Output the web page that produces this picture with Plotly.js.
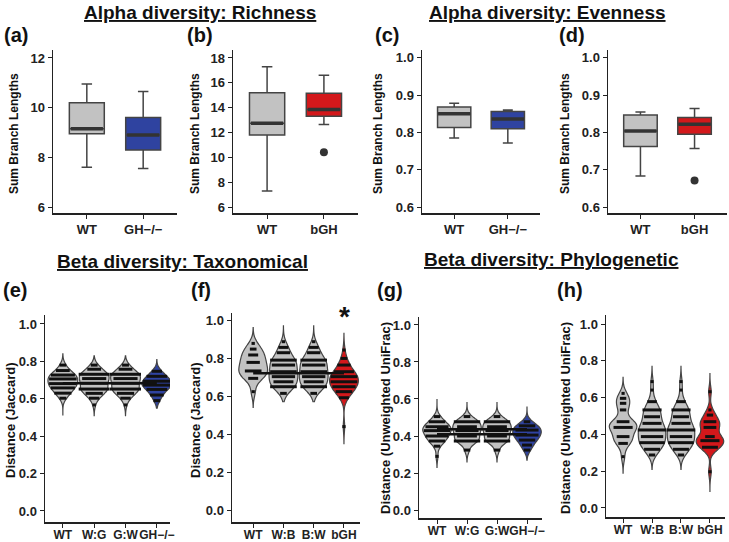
<!DOCTYPE html>
<html>
<head>
<meta charset="utf-8">
<script src="https://cdn.plot.ly/plotly-3.0.1.min.js"></script>
<style>body{margin:0;background:#fff}</style>
</head>
<body>
<div id="fig" style="width:729px;height:542px"></div>
<script>
// ---- alpha diversity box plots (whisker low, q1, median, q3, whisker high) ----
var aCats = ['WT', 'GH\u2212/\u2212'];
var aLow = [7.6, 7.55], aQ1 = [8.95, 8.3], aMed = [9.15, 8.9], aQ3 = [10.2, 9.6], aHigh = [10.95, 10.65];

var bCats = ['WT', 'bGH'];
var bLow = [7.3, 12.65], bQ1 = [11.8, 13.3], bMed = [12.75, 13.85], bQ3 = [15.2, 15.15], bHigh = [17.3, 16.6];
var bOutCat = ['bGH'], bOutVal = [10.4];

var cCats = ['WT', 'GH\u2212/\u2212'];
var cLow = [0.785, 0.772], cQ1 = [0.813, 0.81], cMed = [0.85, 0.836], cQ3 = [0.868, 0.856], cHigh = [0.878, 0.86];

var dCats = ['WT', 'bGH'];
var dLow = [0.683, 0.757], dQ1 = [0.762, 0.795], dMed = [0.804, 0.822], dQ3 = [0.847, 0.84], dHigh = [0.855, 0.864];
var dOutCat = ['bGH'], dOutVal = [0.671];

// ---- beta diversity: binned distances (bin value, count) and ranges ----
var eCats = ['WT', 'W:G', 'G:W', 'GH\u2212/\u2212'];
var eWTy = [0.78, 0.751, 0.727, 0.706, 0.681, 0.658, 0.63, 0.603], eWTn = [2, 4, 7, 8, 8, 7, 5, 2];
var eWGy = [0.78, 0.758, 0.731, 0.708, 0.683, 0.652, 0.629, 0.603, 0.567], eWGn = [2, 4, 9, 7, 8, 9, 5, 3, 1];
var eGHy = [0.747, 0.72, 0.694, 0.673, 0.65, 0.62, 0.59], eGHn = [3, 6, 8, 8, 6, 4, 2];
var eLo = [0.51, 0.51, 0.51, 0.55], eHi = [0.84, 0.83, 0.83, 0.81];
var eRef = [0.683];

var fCats = ['WT', 'W:B', 'B:W', 'bGH'];
var fWTy = [0.877, 0.847, 0.816, 0.777, 0.732, 0.693, 0.623], fWTn = [1, 2, 3, 4, 5, 3, 1];
var fWBy = [0.886, 0.856, 0.828, 0.789, 0.763, 0.728, 0.702, 0.675, 0.649, 0.614], fWBn = [1, 3, 4, 8, 7, 8, 7, 6, 8, 2];
var fBGy = [0.842, 0.798, 0.763, 0.728, 0.702, 0.675, 0.649, 0.623, 0.591, 0.439], fBGn = [1, 2, 4, 6, 8, 8, 7, 5, 3, 1];
var fLo = [0.54, 0.57, 0.57, 0.35], fHi = [0.96, 0.97, 0.97, 0.93];
var fRef = [0.72];

var gCats = ['WT', 'W:G', 'G:W', 'GH\u2212/\u2212'];
var gWTy = [0.505, 0.477, 0.45, 0.429, 0.4, 0.373, 0.345, 0.29], gWTn = [2, 5, 7, 8, 7, 5, 2, 1];
var gWGy = [0.505, 0.477, 0.45, 0.429, 0.4, 0.373, 0.324], gWGn = [2, 8, 6, 7, 6, 8, 2];
var gGHy = [0.477, 0.455, 0.432, 0.405, 0.378, 0.351, 0.324], gGHn = [2, 5, 7, 7, 5, 3, 2];
var gLo = [0.23, 0.26, 0.26, 0.27], gHi = [0.6, 0.58, 0.58, 0.56];
var gRef = [0.437, 0.41];

var hCats = ['WT', 'W:B', 'B:W', 'bGH'];
var hWTy = [0.623, 0.596, 0.569, 0.533, 0.469, 0.438, 0.388, 0.351, 0.279], hWTn = [1, 2, 2, 2, 4, 6, 4, 3, 1];
var hWBy = [0.687, 0.641, 0.578, 0.533, 0.496, 0.46, 0.424, 0.388, 0.355, 0.319, 0.288], hWBn = [1, 1, 3, 6, 5, 6, 9, 7, 8, 5, 2];
var hBGy = [0.632, 0.533, 0.505, 0.469, 0.438, 0.388, 0.366, 0.33, 0.197], hBGn = [1, 1, 2, 4, 4, 3, 6, 5, 1];
var hLo = [0.19, 0.21, 0.21, 0.09], hHi = [0.71, 0.77, 0.77, 0.73];

var GRAY = '#c2c2c2', BLUE = '#2f43a0', RED = '#d3181b';
var W = 729, H = 542;
var FONT = 'Liberation Sans, Arial, sans-serif';
var traces = [];
var shapes = [];

function px(p) { return p / W; }
function py(p) { return 1 - p / H; }

function boxPanel(cats, low, q1, med, q3, high, colors, xa, ya) {
	cats.forEach(function(c, i) {
		traces.push({
			type: 'box', x: [c], lowerfence: [low[i]], q1: [q1[i]], median: [med[i]],
			q3: [q3[i]], upperfence: [high[i]], fillcolor: colors[i],
			line: {color: '#444', width: 1.5}, width: 0.62, whiskerwidth: 0.3,
			boxpoints: false, hoverinfo: 'skip', xaxis: xa, yaxis: ya
		});
	});
	// thick median bars
	traces.push({
		type: 'scatter', mode: 'markers', x: cats, y: med, xaxis: xa, yaxis: ya, hoverinfo: 'skip',
		marker: {symbol: 'line-ew', size: 23, line: {color: '#333', width: 3.5}}
	});
}

function outliers(cats, vals, xa, ya) {
	traces.push({
		type: 'scatter', mode: 'markers', x: cats, y: vals, xaxis: xa, yaxis: ya, hoverinfo: 'skip',
		marker: {size: 8, color: '#333'}
	});
}

function violinPanel(ys, ns, lo, hi, colors, bw, xa, ya) {
	ys.forEach(function(yv, i) {
		var samples = [];
		yv.forEach(function(v, j) {
			for (var k = 0; k < ns[i][j]; k++) samples.push(v);
		});
		traces.push({
			type: 'violin', x0: i + 1, y: samples, span: [lo[i], hi[i]], spanmode: 'manual',
			bandwidth: bw, width: 0.95, scalemode: 'width', fillcolor: colors[i],
			line: {color: '#444', width: 1.2}, points: false, box: {visible: false},
			meanline: {visible: false}, hoverinfo: 'skip', xaxis: xa, yaxis: ya
		});
		traces.push({
			type: 'scatter', mode: 'markers', x: yv.map(function() { return i + 1; }), y: yv,
			marker: {size: 1, color: 'rgba(0,0,0,0)'}, hoverinfo: 'skip', xaxis: xa, yaxis: ya,
			error_x: {type: 'data', symmetric: true, array: ns[i].map(function(n) { return n * 0.055; }),
				width: 0, thickness: 3, color: '#111'}
		});
	});
}

function refLines(vals, xa, ya) {
	vals.forEach(function(v) {
		shapes.push({type: 'line', xref: xa, yref: ya, x0: 1, x1: 4, y0: v, y1: v,
			layer: 'above', line: {color: '#111', width: 2.5}});
	});
}

boxPanel(aCats, aLow, aQ1, aMed, aQ3, aHigh, [GRAY, BLUE], 'x', 'y');
boxPanel(bCats, bLow, bQ1, bMed, bQ3, bHigh, [GRAY, RED], 'x2', 'y2');
outliers(bOutCat, bOutVal, 'x2', 'y2');
boxPanel(cCats, cLow, cQ1, cMed, cQ3, cHigh, [GRAY, BLUE], 'x3', 'y3');
boxPanel(dCats, dLow, dQ1, dMed, dQ3, dHigh, [GRAY, RED], 'x4', 'y4');
outliers(dOutCat, dOutVal, 'x4', 'y4');

refLines(eRef, 'x5', 'y5');
violinPanel([eWTy, eWGy, eWGy, eGHy], [eWTn, eWGn, eWGn, eGHn], eLo, eHi, [GRAY, GRAY, GRAY, BLUE], 0.022, 'x5', 'y5');
refLines(fRef, 'x6', 'y6');
violinPanel([fWTy, fWBy, fWBy, fBGy], [fWTn, fWBn, fWBn, fBGn], fLo, fHi, [GRAY, GRAY, GRAY, RED], 0.03, 'x6', 'y6');
refLines(gRef, 'x7', 'y7');
violinPanel([gWTy, gWGy, gWGy, gGHy], [gWTn, gWGn, gWGn, gGHn], gLo, gHi, [GRAY, GRAY, GRAY, BLUE], 0.022, 'x7', 'y7');
violinPanel([hWTy, hWBy, hWBy, hBGy], [hWTn, hWBn, hWBn, hBGn], hLo, hHi, [GRAY, GRAY, GRAY, RED], 0.03, 'x8', 'y8');

function tickFont(size) {
	return {family: FONT, size: size, color: '#222', weight: 'bold'};
}

function xCat(d0, d1, anchor) {
	return {domain: [px(d0), px(d1)], anchor: anchor, type: 'category', range: [-0.6, 1.6],
		showline: true, linecolor: '#222', linewidth: 1.5, ticks: 'outside', ticklen: 4,
		tickcolor: '#222', showgrid: false, zeroline: false, tickangle: 0, tickfont: tickFont(13)};
}

function xNum(d0, d1, anchor, range, cats) {
	return {domain: [px(d0), px(d1)], anchor: anchor, range: range, tickvals: [1, 2, 3, 4],
		ticktext: cats, showline: true, linecolor: '#222', linewidth: 1.5, ticks: 'outside',
		ticklen: 4, tickcolor: '#222', showgrid: false, zeroline: false, tickangle: 0,
		ticklabelstandoff: -3, tickfont: tickFont(12)};
}

function yAx(top, bottom, anchor, range, dtick, fmt) {
	return {domain: [py(bottom), py(top)], anchor: anchor, range: range, tick0: 0, dtick: dtick,
		tickformat: fmt, showline: true, linecolor: '#222', linewidth: 1.5, ticks: 'outside',
		ticklen: 4, tickcolor: '#222', showgrid: false, zeroline: false, tickfont: tickFont(13)};
}

function ann(text, x, y, size, opts) {
	var a = {text: text, xref: 'paper', yref: 'paper', x: px(x), y: py(y), showarrow: false,
		xanchor: 'center', yanchor: 'middle', font: {family: FONT, size: size, color: '#111', weight: 'bold'}};
	for (var k in opts) a[k] = opts[k];
	return a;
}

var annotations = [
	ann('<u>Alpha diversity: Richness</u>', 200, 12, 19),
	ann('<u>Alpha diversity: Evenness</u>', 547, 12, 19),
	ann('<u>Beta diversity: Taxonomical</u>', 182, 261, 19),
	ann('<u>Beta diversity: Phylogenetic</u>', 551, 260, 19),
	ann('(a)', 2, 35, 20, {xanchor: 'left'}),
	ann('(b)', 185, 35, 20, {xanchor: 'left'}),
	ann('(c)', 373, 35, 20, {xanchor: 'left'}),
	ann('(d)', 557, 35, 20, {xanchor: 'left'}),
	ann('(e)', 1, 290, 20, {xanchor: 'left'}),
	ann('(f)', 189, 290, 20, {xanchor: 'left'}),
	ann('(g)', 375, 290, 20, {xanchor: 'left'}),
	ann('(h)', 555, 290, 20, {xanchor: 'left'}),
	ann('Sum Branch Lengths', 14, 134, 12, {textangle: -90}),
	ann('Sum Branch Lengths', 195, 134, 12, {textangle: -90}),
	ann('Sum Branch Lengths', 378, 134, 12, {textangle: -90}),
	ann('Sum Branch Lengths', 565, 134, 12, {textangle: -90}),
	ann('Distance (Jaccard)', 10, 420, 13, {textangle: -90}),
	ann('Distance (Jaccard)', 195, 420, 13, {textangle: -90}),
	ann('Distance (Unweighted UniFrac)', 385, 418, 13, {textangle: -90}),
	ann('Distance (Unweighted UniFrac)', 565, 418, 13, {textangle: -90}),
	ann('*', 344, 316, 28)
];

var layout = {
	width: W, height: H,
	margin: {l: 0, r: 0, t: 0, b: 0},
	paper_bgcolor: '#fff', plot_bgcolor: '#fff',
	showlegend: false,
	violinmode: 'overlay', boxmode: 'overlay',
	xaxis: xCat(53, 177, 'y'),
	yaxis: yAx(50, 213, 'x', [5.76, 12.32], 2, 'd'),
	xaxis2: xCat(233, 358, 'y2'),
	yaxis2: yAx(50, 213, 'x2', [5.52, 18.64], 2, 'd'),
	xaxis3: xCat(422, 540, 'y3'),
	yaxis3: yAx(50, 213, 'x3', [0.584, 1.021], 0.1, '.1f'),
	xaxis4: xCat(608, 727, 'y4'),
	yaxis4: yAx(50, 213, 'x4', [0.584, 1.021], 0.1, '.1f'),
	xaxis5: xNum(45, 170, 'y5', [0.43, 4.42], eCats),
	yaxis5: yAx(315, 522, 'x5', [-0.059, 1.048], 0.2, '.1f'),
	xaxis6: xNum(232, 360, 'y6', [0.3, 4.53], fCats),
	yaxis6: yAx(313, 522, 'x6', [-0.063, 1.037], 0.2, '.1f'),
	xaxis7: xNum(419, 542, 'y7', [0.4, 4.5], gCats),
	yaxis7: yAx(317, 518, 'x7', [-0.043, 1.043], 0.2, '.1f'),
	xaxis8: xNum(606, 725, 'y8', [0.41, 4.52], hCats),
	yaxis8: yAx(315, 517, 'x8', [-0.049, 1.049], 0.2, '.1f'),
	shapes: shapes,
	annotations: annotations
};

Plotly.newPlot('fig', traces, layout, {staticPlot: true, displayModeBar: false});
</script>
</body>
</html>
